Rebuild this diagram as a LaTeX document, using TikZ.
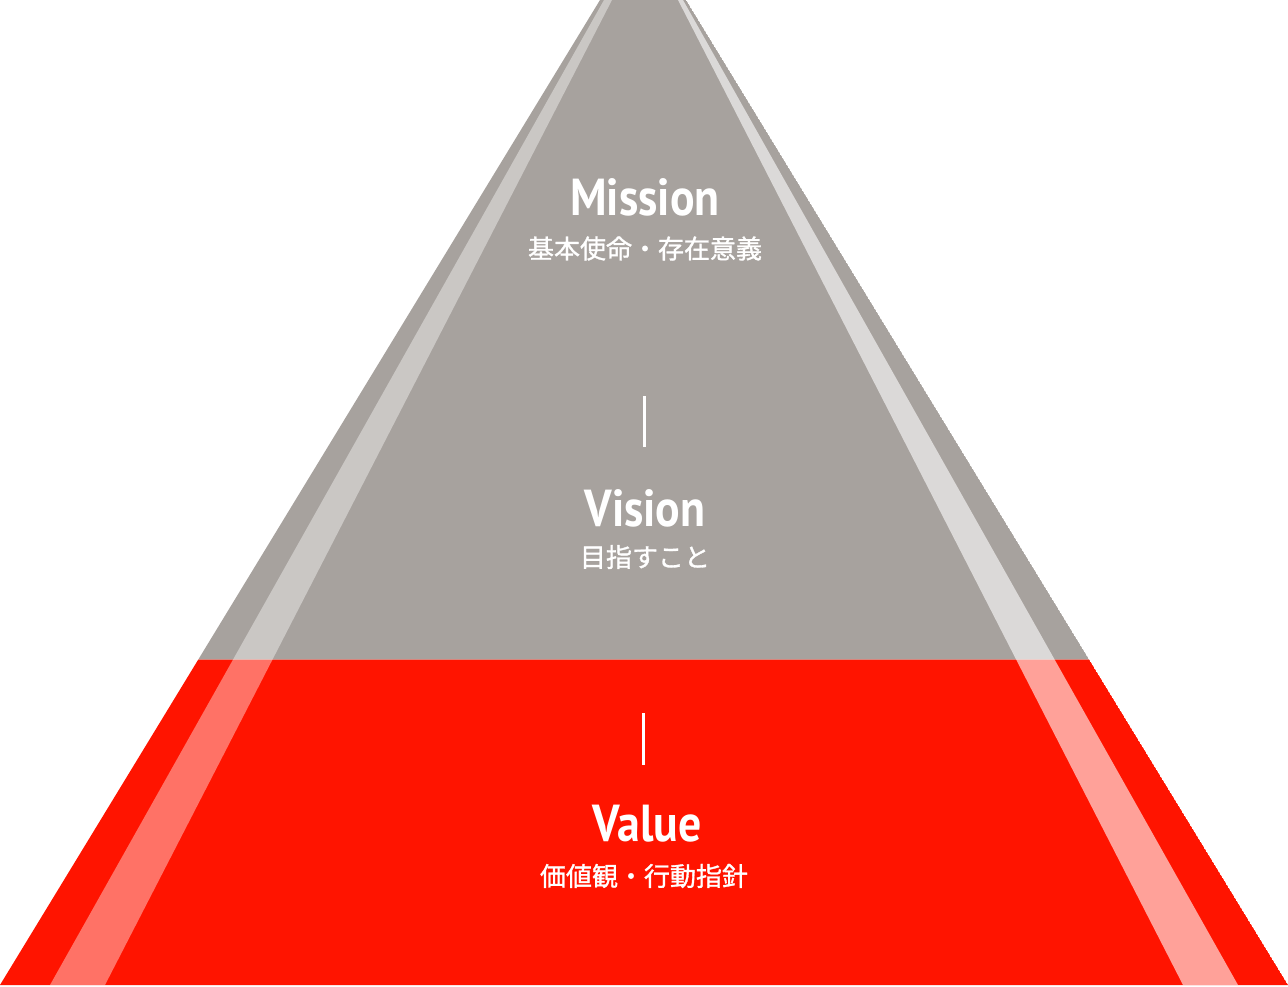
\documentclass[tikz,border=0pt]{standalone}
\usepackage{fontspec}
\newfontfamily\latinfont{PT Sans}[FakeStretch=0.88]
\newfontfamily\jpfont{Noto Sans CJK JP}[FakeBold=1.2]
\definecolor{pyramidGray}{RGB}{167, 162, 158}
\definecolor{pyramidRed}{RGB}{255, 20, 0}
\usetikzlibrary{positioning}

\tikzset{
  layertitle/.style={text=white,anchor=base,inner sep=0pt,font=\latinfont\bfseries\fontsize{52}{52}\selectfont},
  layersub/.style={text=white,inner sep=0pt,font=\jpfont\fontsize{26}{26}\selectfont},
  divider/.style={draw=white,line width=3pt},
}

\begin{document}
\begin{tikzpicture}[x=1pt,y=-1pt]
  \useasboundingbox (0,0) rectangle (1288,987);
  % pyramid layers
  \begin{scope}
    \clip (600,0) -- (686,0) -- (1288,985) -- (0,985) -- cycle;
    \fill[pyramidGray] (600,0) -- (686,0) -- (1089.1,659.5) -- (198.3,659.5) -- cycle;
    \fill[pyramidRed] (198.3,659.5) -- (1089.1,659.5) -- (1288,985) -- (0,985) -- cycle;
    % light stripes
    \fill[white,opacity=0.4] (604,0) -- (612,0) -- (105,985) -- (50,985) -- cycle;
    \fill[white,opacity=0.6] (678,0) -- (683,0) -- (1238,985) -- (1183,985) -- cycle;
  \end{scope}
  % labels
  \node[layertitle] (mission) at (645,216) {Mission};
  \node[layersub] (missionSub) at (645,248.5) {基本使命・存在意義};
  \coordinate (barOneTop) at (644.5,396);
  \coordinate (barOneBot) at (644.5,447);
  \draw[divider] (barOneTop) -- (barOneBot);
  \node[layertitle] (vision) at (645,526) {Vision};
  \node[layersub] (visionSub) at (645,557) {目指すこと};
  \coordinate (barTwoTop) at (643.5,713);
  \coordinate (barTwoBot) at (643.5,765);
  \draw[divider] (barTwoTop) -- (barTwoBot);
  \node[layertitle] (value) at (647,841) {Value};
  \node[layersub] (valueSub) at (644,876) {価値観・行動指針};
\end{tikzpicture}
\end{document}
